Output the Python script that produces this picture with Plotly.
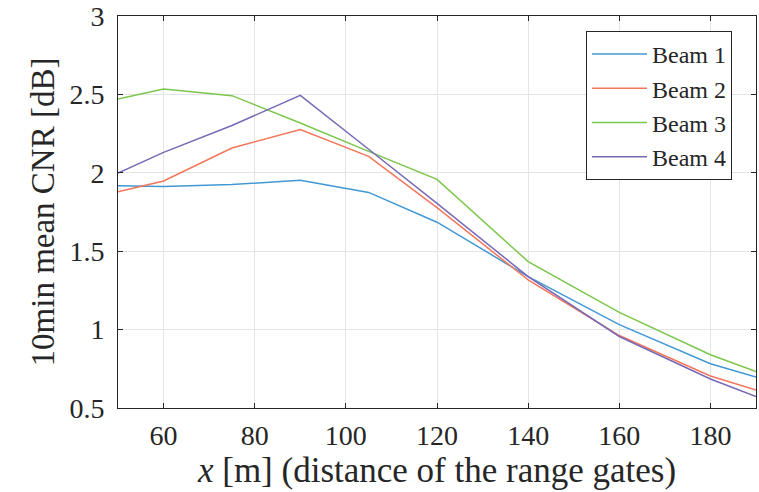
import plotly.graph_objects as go

x_m = [50, 60, 75, 90, 105, 120, 140, 160, 180, 190]
beam1 = [1.918, 1.912, 1.925, 1.952, 1.875, 1.685, 1.338, 1.032, 0.782, 0.697]
beam2 = [1.879, 1.948, 2.158, 2.276, 2.105, 1.778, 1.317, 0.962, 0.704, 0.615]
beam3 = [2.471, 2.534, 2.492, 2.318, 2.137, 1.958, 1.434, 1.110, 0.840, 0.733]
beam4 = [1.999, 2.130, 2.302, 2.494, 2.150, 1.805, 1.338, 0.956, 0.685, 0.573]
names = ["Beam 1", "Beam 2", "Beam 3", "Beam 4"]
colors = ["#4298d4", "#f3765a", "#7bc64c", "#7769b6"]

xticks = [60, 80, 100, 120, 140, 160, 180]
yticks = [0.5, 1, 1.5, 2, 2.5, 3]
yticklabels = ["0.5", "1", "1.5", "2", "2.5", "3"]

FONT = "Liberation Serif, DejaVu Serif, serif"
INK = "#262626"

fig = go.Figure()
for name, ys, c in zip(names, [beam1, beam2, beam3, beam4], colors):
    fig.add_trace(go.Scatter(x=x_m, y=ys, mode="lines", name=name,
                             line=dict(color=c, width=1.5)))

axis_common = dict(showline=True, linecolor=INK, linewidth=1, mirror="ticks",
                   ticks="inside", ticklen=5, tickcolor=INK, automargin=False,
                   ticklabeloverflow="allow",
                   showgrid=True, gridcolor="#e4e4e4", gridwidth=1, zeroline=False,
                   tickfont=dict(family=FONT, size=28, color=INK))

fig.update_layout(
    width=759, height=492,
    margin=dict(l=118, r=3, t=16, b=84),
    paper_bgcolor="white", plot_bgcolor="white",
    font=dict(family=FONT, color=INK),
    xaxis=dict(range=[50, 190], tickvals=xticks, ticklabelstandoff=2,
               title=dict(text="<i>x</i> [m] (distance of the range gates)",
                          font=dict(family=FONT, size=35, color=INK), standoff=3),
               **axis_common),
    yaxis=dict(range=[0.5, 3], tickvals=yticks, ticktext=yticklabels,
               ticklabelstandoff=7,
               title=dict(text="10min mean CNR [dB]",
                          font=dict(family=FONT, size=33, color=INK), standoff=4),
               **axis_common),
    legend=dict(x=0.7335, y=0.9617, xanchor="left", yanchor="top",
                bgcolor="white", bordercolor=INK, borderwidth=1,
                font=dict(family=FONT, size=24, color=INK),
                tracegroupgap=0, itemwidth=55),
    showlegend=True,
)

fig.write_html("out.html",
               config={"displayModeBar": False},
               post_script="document.body.style.margin='0';document.body.style.overflow='hidden';")
